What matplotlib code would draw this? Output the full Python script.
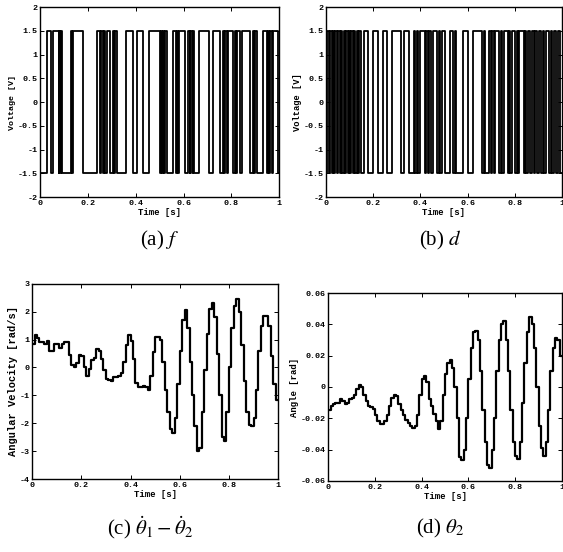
import matplotlib
matplotlib.use('Agg')
import matplotlib.pyplot as plt
from matplotlib.ticker import FuncFormatter, MultipleLocator
import numpy as np

plt.rcParams['font.family'] = ['Liberation Mono', 'DejaVu Sans Mono']
plt.rcParams['axes.unicode_minus'] = False
plt.rcParams['mathtext.fontset'] = 'stix'

# (a) f : intervals (s) where the input sits at +1.5 V, else -1.5 V
f_high = [(0.030, 0.045), (0.056, 0.078), (0.081, 0.085), (0.089, 0.094),
          (0.129, 0.133), (0.137, 0.180), (0.237, 0.250), (0.257, 0.262),
          (0.266, 0.272), (0.280, 0.293), (0.305, 0.310), (0.314, 0.323),
          (0.360, 0.390), (0.405, 0.432), (0.455, 0.500), (0.505, 0.510),
          (0.515, 0.520), (0.524, 0.530), (0.555, 0.568), (0.572, 0.576),
          (0.580, 0.606), (0.620, 0.625), (0.629, 0.634), (0.638, 0.642),
          (0.666, 0.707), (0.724, 0.752), (0.763, 0.768), (0.772, 0.780),
          (0.787, 0.808), (0.815, 0.820), (0.825, 0.836), (0.843, 0.877),
          (0.891, 0.896), (0.900, 0.905), (0.933, 0.947), (0.954, 0.959),
          (0.963, 0.968), (0.975, 0.996)]

# (b) d : intervals (s) at +1.5 V
d_high = [(0.005, 0.012), (0.018, 0.025), (0.030, 0.035), (0.040, 0.048),
          (0.053, 0.058), (0.063, 0.070), (0.075, 0.080), (0.086, 0.092),
          (0.097, 0.102), (0.108, 0.115), (0.120, 0.125), (0.130, 0.137),
          (0.142, 0.150), (0.160, 0.178), (0.198, 0.220), (0.240, 0.258),
          (0.280, 0.318), (0.330, 0.352), (0.372, 0.378), (0.384, 0.392),
          (0.400, 0.418), (0.425, 0.432), (0.438, 0.446), (0.452, 0.470),
          (0.478, 0.484), (0.490, 0.505), (0.525, 0.540), (0.548, 0.552),
          (0.580, 0.600), (0.625, 0.662), (0.668, 0.675), (0.690, 0.700),
          (0.705, 0.712), (0.718, 0.735), (0.742, 0.748), (0.755, 0.770),
          (0.776, 0.782), (0.790, 0.800), (0.808, 0.814), (0.820, 0.840),
          (0.845, 0.850), (0.858, 0.865), (0.872, 0.880), (0.888, 0.895),
          (0.902, 0.910), (0.918, 0.925), (0.932, 0.945), (0.952, 0.958),
          (0.965, 0.975), (0.982, 0.990)]

# (c) angular velocity difference, sampled every 0.01 s
vel = [0.85, 1.15, 1.05, 0.9, 0.9, 0.85, 0.95, 0.6, 0.6, 0.85,
       0.85, 0.7, 0.85, 0.9, 0.9, 0.45, 0.1, 0.0, 0.15, 0.45,
       0.4, 0.0, -0.3, -0.05, 0.25, 0.35, 0.65, 0.6, 0.3, -0.1,
       -0.4, -0.45, -0.5, -0.35, -0.35, -0.3, -0.2, 0.2, 0.8, 1.15,
       0.95, 0.3, -0.55, -0.7, -0.7, -0.65, -0.7, -0.8, -0.3, 0.55,
       1.1, 1.1, 1.0, 0.2, -0.8, -1.6, -2.2, -2.35, -1.8, -0.6,
       0.6, 1.7, 2.05, 1.4, 0.2, -1.0, -2.1, -3.0, -2.9, -1.6,
       -0.1, 1.2, 2.1, 2.3, 1.8, 0.5, -1.0, -2.5, -2.65, -1.6,
       0.0, 1.4, 2.2, 2.45, 2.0, 0.8, -0.5, -1.6, -2.05, -2.1,
       -1.8, -0.8, 0.6, 1.5, 1.85, 1.85, 1.5, 0.4, -0.6, -1.15]

# (d) pendulum angle, sampled every 0.01 s
ang = [-0.015, -0.012, -0.011, -0.010, -0.010, -0.008, -0.009, -0.011, -0.010, -0.008,
       -0.007, -0.005, -0.001, 0.001, 0.000, -0.005, -0.009, -0.012, -0.013, -0.014,
       -0.018, -0.022, -0.024, -0.024, -0.022, -0.018, -0.012, -0.007, -0.005, -0.006,
       -0.011, -0.015, -0.018, -0.021, -0.023, -0.025, -0.026, -0.025, -0.018, -0.005,
       0.005, 0.007, 0.003, -0.008, -0.012, -0.017, -0.022, -0.027, -0.022, -0.005,
       0.008, 0.015, 0.017, 0.012, 0.000, -0.020, -0.045, -0.047, -0.040, -0.020,
       0.005, 0.025, 0.035, 0.036, 0.030, 0.010, -0.015, -0.035, -0.050, -0.052,
       -0.040, -0.020, 0.010, 0.030, 0.040, 0.042, 0.030, 0.010, -0.015, -0.035,
       -0.044, -0.046, -0.035, -0.010, 0.015, 0.035, 0.045, 0.040, 0.025, 0.000,
       -0.025, -0.039, -0.044, -0.035, -0.015, 0.010, 0.025, 0.031, 0.030, 0.020]

dt = 0.01


def square(high):
    t = [0.0]
    v = [-1.5]
    for s, e in high:
        t += [s, e]
        v += [1.5, -1.5]
    t.append(1.0)
    v.append(v[-1])
    return t, v


def style_axes(ax):
    ax.set_xlim(0, 1)
    ax.xaxis.set_major_locator(MultipleLocator(0.2))
    fmt = FuncFormatter(lambda x, p: '%g' % round(x, 6))
    ax.xaxis.set_major_formatter(fmt)
    ax.yaxis.set_major_formatter(fmt)
    ax.tick_params(direction='in', length=3, width=0.7, labelsize=6,
                   top=True, right=True, pad=2)
    for lab in ax.get_xticklabels() + ax.get_yticklabels():
        lab.set_fontweight('bold')
    for sp in ax.spines.values():
        sp.set_linewidth(1.0)
    ax.set_xlabel('Time [s]', fontsize=6.5, labelpad=1, fontweight='bold')


fig = plt.figure(figsize=(5.63, 5.52), dpi=100)

ax_a = fig.add_axes([0.071, 0.643, 0.425, 0.344])
t, v = square(f_high)
ax_a.step(t, v, where='post', color='black', lw=1.3)
ax_a.set_ylim(-2, 2)
ax_a.yaxis.set_major_locator(MultipleLocator(0.5))
style_axes(ax_a)
ax_a.set_ylabel('Voltage [V]', fontsize=6, labelpad=1, fontweight='bold')

ax_b = fig.add_axes([0.579, 0.643, 0.419, 0.344])
t, v = square(d_high)
ax_b.step(t, v, where='post', color='black', lw=1.3)
ax_b.set_ylim(-2, 2)
ax_b.yaxis.set_major_locator(MultipleLocator(0.5))
style_axes(ax_b)
ax_b.set_ylabel('Voltage [V]', fontsize=6.3, labelpad=1, fontweight='bold')

tt = np.arange(len(vel)) * dt
ax_c = fig.add_axes([0.057, 0.132, 0.437, 0.354])
ax_c.step(np.append(tt, 1.0), vel + [vel[-1]], where='post', color='black', lw=1.6)
ax_c.set_ylim(-4, 3)
ax_c.yaxis.set_major_locator(MultipleLocator(1))
style_axes(ax_c)
ax_c.set_ylabel('Angular Velocity [rad/s]', fontsize=7.5, labelpad=1, fontweight='bold')

ta = np.arange(len(ang)) * dt
ax_d = fig.add_axes([0.583, 0.129, 0.415, 0.340])
ax_d.step(np.append(ta, 1.0), ang + [ang[-1]], where='post', color='black', lw=1.6)
ax_d.set_ylim(-0.06, 0.06)
ax_d.yaxis.set_major_locator(MultipleLocator(0.02))
style_axes(ax_d)
ax_d.set_ylabel('Angle [rad]', fontsize=6.5, labelpad=1, fontweight='bold')

cap = dict(fontsize=15, family=['Liberation Serif', 'DejaVu Serif'], ha='center', va='center')
fig.text(160 / 563, 1 - 240 / 552, r'(a) $f$', **cap)
fig.text(440 / 563, 1 - 240 / 552, r'(b) $d$', **cap)
fig.text(150 / 563, 1 - 528 / 552, r'(c) $\dot{\theta}_1 - \dot{\theta}_2$', **cap)
fig.text(440 / 563, 1 - 528 / 552, r'(d) $\theta_2$', **cap)

fig.savefig('out.png', dpi=100)
